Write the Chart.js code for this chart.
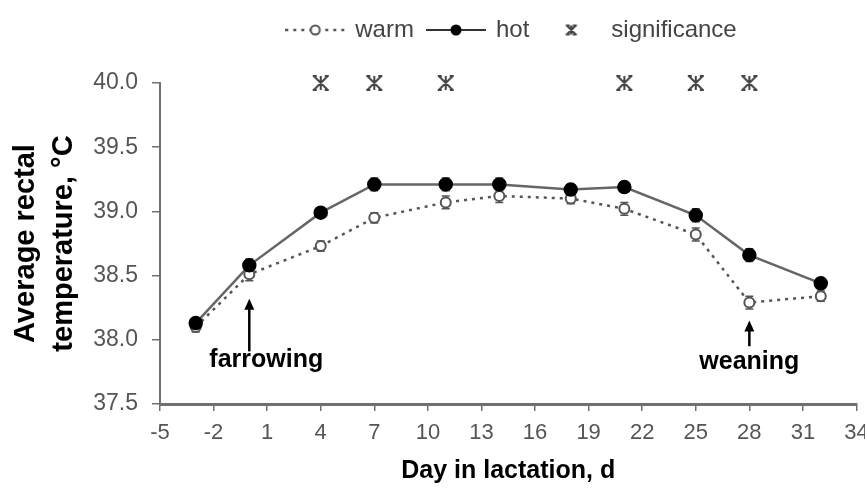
<!DOCTYPE html>
<html lang="en">
<head>
<meta charset="UTF-8">
<title>Average rectal temperature</title>
<style>
  html, body { margin: 0; padding: 0; background: #fff; }
</style>
</head>
<body>
<canvas id="chart" width="865" height="502"></canvas>

<script src="https://cdn.jsdelivr.net/npm/chart.js@4.4.1/dist/chart.umd.min.js"></script>
<script>
// values
const days = [-3, 0, 4, 7, 11, 14, 18, 21, 25, 28, 32];
const warm = [38.10, 38.51, 38.73, 38.95, 39.07, 39.12, 39.10, 39.02, 38.82, 38.29, 38.34];
const hot = [38.13, 38.58, 38.99, 39.21, 39.21, 39.21, 39.17, 39.19, 38.97, 38.66, 38.44];
const warmErr = [0.04, 0.05, 0.04, 0.04, 0.05, 0.05, 0.04, 0.05, 0.05, 0.05, 0.04];
const hotErr = [0.03, 0.05, 0.03, 0.05, 0.05, 0.05, 0.04, 0.04, 0.05, 0.05, 0.04];
const sigDays = [4, 7, 11, 21, 25, 28];
const sigLevel = 40.0;

const seriesNames = ['warm', 'hot', 'significance'];
const xMin = -5, xMax = 34, xStep = 3;
const yMin = 37.5, yMax = 40.0, yStep = 0.5;

// event labels: day of the arrow, arrow from/to (deg C), label centre
const notes = ['farrowing', 'weaning'];
const noteDays = [0, 28];
const noteArrowFrom = [37.91, 37.95];
const noteArrowTo = [38.32, 38.15];
const noteTextDays = [0.95, 28];
const noteTextLevel = [37.84, 37.83];

Chart.defaults.font.family = "'Liberation Sans', Arial, sans-serif";

function makeIcon(w, h, draw) {
    const c = document.createElement('canvas');
    c.width = w; c.height = h;
    draw(c.getContext('2d'), w, h);
    return c;
}

// asterisk-like mark used for significance
function drawSigMark(g, cx, cy, r) {
    g.strokeStyle = '#444';
    g.lineWidth = 2;
    g.beginPath();
    g.moveTo(cx, cy - r); g.lineTo(cx, cy + r);
    g.moveTo(cx - r, cy - r); g.lineTo(cx + r, cy + r);
    g.moveTo(cx + r, cy - r); g.lineTo(cx - r, cy + r);
    g.moveTo(cx - r - 1, cy - r); g.lineTo(cx - r + 3, cy - r);
    g.moveTo(cx + r + 1, cy - r); g.lineTo(cx + r - 3, cy - r);
    g.moveTo(cx - r - 1, cy + r); g.lineTo(cx - r + 3, cy + r);
    g.moveTo(cx + r + 1, cy + r); g.lineTo(cx + r - 3, cy + r);
    g.stroke();
}

const sigPoint = makeIcon(20, 20, (g) => drawSigMark(g, 10, 10, 7));

const legendIcons = [
    makeIcon(60, 16, (g, w, h) => {
        g.strokeStyle = '#555'; g.lineWidth = 2.5;
        g.setLineDash([3, 5]);
        g.beginPath(); g.moveTo(0, h / 2); g.lineTo(w, h / 2); g.stroke();
        g.setLineDash([]);
        g.fillStyle = '#fff'; g.lineWidth = 2;
        g.beginPath(); g.arc(w / 2, h / 2, 4.5, 0, Math.PI * 2); g.fill(); g.stroke();
    }),
    makeIcon(60, 16, (g, w, h) => {
        g.strokeStyle = '#333'; g.lineWidth = 2;
        g.beginPath(); g.moveTo(0, h / 2); g.lineTo(w, h / 2); g.stroke();
        g.fillStyle = '#000';
        g.beginPath(); g.arc(w / 2, h / 2, 5.5, 0, Math.PI * 2); g.fill();
    }),
    makeIcon(16, 16, (g) => drawSigMark(g, 8, 8, 4.5))
];

const errorBars = {
    id: 'errorBars',
    beforeDatasetsDraw(chart) {
        const {ctx, scales: {x, y}} = chart;
        ctx.save();
        ctx.strokeStyle = '#555';
        ctx.lineWidth = 1.5;
        [[warm, warmErr], [hot, hotErr]].forEach(([vals, errs]) => {
            days.forEach((d, i) => {
                const px = x.getPixelForValue(d);
                const top = y.getPixelForValue(vals[i] + errs[i]);
                const bot = y.getPixelForValue(vals[i] - errs[i]);
                ctx.beginPath();
                ctx.moveTo(px, top); ctx.lineTo(px, bot);
                ctx.moveTo(px - 4, top); ctx.lineTo(px + 4, top);
                ctx.moveTo(px - 4, bot); ctx.lineTo(px + 4, bot);
                ctx.stroke();
            });
        });
        ctx.restore();
    }
};

const eventNotes = {
    id: 'eventNotes',
    afterDatasetsDraw(chart) {
        const {ctx, scales: {x, y}} = chart;
        ctx.save();
        ctx.strokeStyle = '#000';
        ctx.fillStyle = '#000';
        ctx.lineWidth = 2.5;
        notes.forEach((txt, i) => {
            const px = x.getPixelForValue(noteDays[i]);
            const y0 = y.getPixelForValue(noteArrowFrom[i]);
            const y1 = y.getPixelForValue(noteArrowTo[i]);
            ctx.beginPath(); ctx.moveTo(px, y0); ctx.lineTo(px, y1 + 8); ctx.stroke();
            ctx.beginPath();
            ctx.moveTo(px, y1); ctx.lineTo(px - 5, y1 + 11); ctx.lineTo(px + 5, y1 + 11);
            ctx.closePath(); ctx.fill();
            ctx.font = "bold 25px 'Liberation Sans', Arial, sans-serif";
            ctx.textAlign = 'center';
            ctx.textBaseline = 'middle';
            ctx.fillText(txt, x.getPixelForValue(noteTextDays[i]), y.getPixelForValue(noteTextLevel[i]));
        });
        ctx.restore();
    }
};

// the legend sits higher than the plot and a bit right of its centre
const legendSpot = {
    id: 'legendSpot',
    afterLayout(chart) {
        const lg = chart.legend;
        const dy = lg.top - 4;
        lg.top -= dy; lg.bottom -= dy;
        const dx = 512 - (lg.left + lg.right) / 2;
        lg.left += dx; lg.right += dx;
    }
};

const ctx = document.getElementById('chart').getContext('2d');
new Chart(ctx, {
    type: 'line',
    data: {
        datasets: [{
            label: seriesNames[0],
            data: days.map((d, i) => ({x: d, y: warm[i]})),
            borderColor: '#555',
            borderWidth: 2.5,
            borderDash: [3, 5],
            pointStyle: 'circle',
            pointRadius: 5,
            pointBorderWidth: 2,
            pointBackgroundColor: '#fff',
            pointBorderColor: '#555',
            order: 1
        }, {
            label: seriesNames[1],
            data: days.map((d, i) => ({x: d, y: hot[i]})),
            borderColor: '#666',
            borderWidth: 2.5,
            pointStyle: 'circle',
            pointRadius: 6,
            pointBackgroundColor: '#000',
            pointBorderColor: '#000',
            order: 0
        }, {
            label: seriesNames[2],
            data: sigDays.map(d => ({x: d, y: sigLevel})),
            showLine: false,
            pointStyle: sigPoint,
            clip: false,
            order: 2
        }]
    },
    options: {
        responsive: false,
        animation: false,
        events: [],
        layout: { padding: { top: 4, right: 0, bottom: 0, left: 0 } },
        plugins: {
            tooltip: { enabled: false },
            legend: {
                position: 'top',
                fullSize: false,
                labels: {
                    usePointStyle: true,
                    pointStyleWidth: 56,
                    padding: 14,
                    color: '#444',
                    font: { size: 24 },
                    sort: (a, b) => a.datasetIndex - b.datasetIndex,
                    generateLabels(chart) {
                        const items = Chart.defaults.plugins.legend.labels.generateLabels(chart);
                        items.forEach(it => {
                            it.pointStyle = legendIcons[it.datasetIndex];
                            it.fontColor = '#444';
                        });
                        return items;
                    }
                }
            }
        },
        scales: {
            x: {
                type: 'linear',
                min: xMin,
                max: xMax,
                // the last tick sits at the right edge; its label is cut as in the figure
                afterFit(s) { s.height = 98; s.paddingRight = 0; s.paddingLeft = 0; },
                border: { color: '#707070', width: 3 },
                grid: { drawOnChartArea: false, drawTicks: true, tickLength: 7, tickColor: '#707070', lineWidth: 1.5 },
                ticks: { stepSize: xStep, padding: 9, color: '#555', font: { size: 22 }, maxRotation: 0, autoSkip: false },
                title: {
                    display: true,
                    text: 'Day in lactation, d',
                    color: '#000',
                    font: { size: 25, weight: 'bold' },
                    padding: { top: 0, bottom: 16 }
                }
            },
            y: {
                min: yMin,
                max: yMax,
                afterFit(s) { s.width = 160; s.paddingTop = 83; },
                border: { color: '#707070', width: 2 },
                grid: { drawOnChartArea: false, drawTicks: true, tickLength: 8, tickColor: '#707070', lineWidth: 1.5 },
                ticks: {
                    stepSize: yStep,
                    padding: 14,
                    color: '#555',
                    font: { size: 23 },
                    callback: v => v.toFixed(1)
                },
                title: {
                    display: true,
                    text: ['Average rectal', 'temperature, °C'],
                    color: '#000',
                    font: { size: 29, weight: 'bold', lineHeight: 1.31 },
                    padding: { top: 7, bottom: 0 }
                }
            }
        }
    },
    plugins: [errorBars, eventNotes, legendSpot]
});
</script>
</body>
</html>
